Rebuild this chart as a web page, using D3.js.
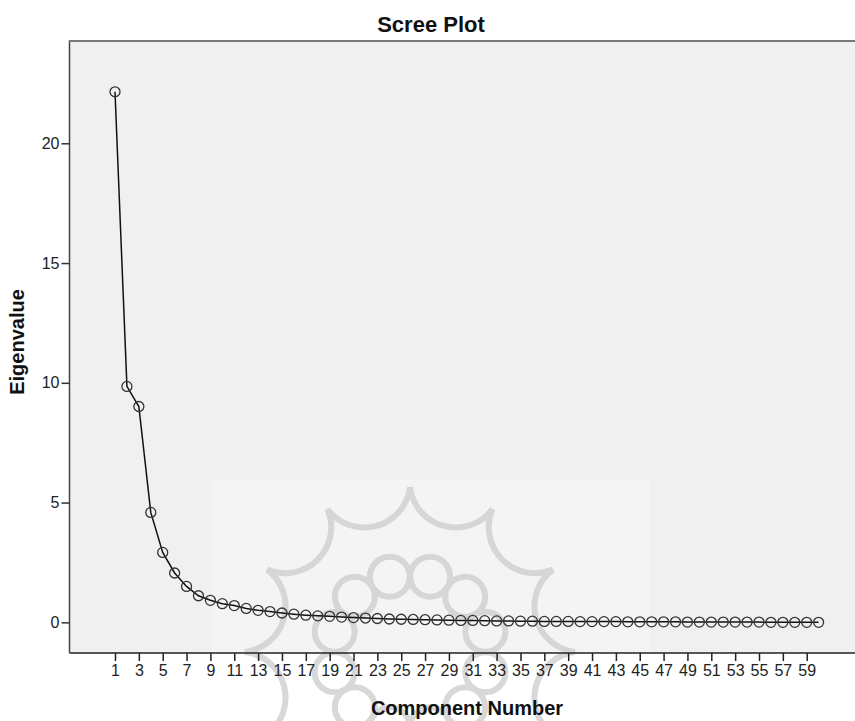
<!DOCTYPE html>
<html>
<head>
<meta charset="utf-8">
<script src="https://cdn.jsdelivr.net/npm/d3@7"></script>
<style>
  html, body { margin: 0; padding: 0; background: #ffffff; }
  svg { display: block; }
</style>
</head>
<body>
<svg id="chart" width="855" height="721"></svg>
<script>
// ---- data ----
const components = d3.range(1, 61);
const eigenvalues = [
  22.15, 9.85, 9.01, 4.59, 2.92, 2.06, 1.50, 1.11, 0.92, 0.78,
  0.70, 0.58, 0.50, 0.45, 0.39, 0.34, 0.30, 0.27, 0.25, 0.22,
  0.20, 0.18, 0.16, 0.14, 0.13, 0.12, 0.11, 0.10, 0.09, 0.08,
  0.08, 0.07, 0.06, 0.06, 0.05, 0.05, 0.04, 0.04, 0.04, 0.03,
  0.03, 0.03, 0.03, 0.02, 0.02, 0.02, 0.02, 0.02, 0.01, 0.01,
  0.01, 0.01, 0.01, 0.01, 0.01, 0.00, 0.00, 0.00, 0.00, 0.00
];
const xTickValues = d3.range(1, 60, 2);
const yTickValues = [0, 5, 10, 15, 20];
const chartTitle = "Scree Plot";
const xTitle = "Component Number";
const yTitle = "Eigenvalue";

// ---- layout ----
const plot = { left: 69.5, top: 41, right: 855, bottom: 653 };
const tickFont = "'Liberation Sans Narrow', 'Arial Narrow', 'Liberation Sans', Arial, sans-serif";
const titleFont = "'Liberation Sans', Arial, sans-serif";

const svg = d3.select("#chart");
const x = d3.scaleLinear().domain([-2.815, 63.05]).range([plot.left, plot.right]);
const y = d3.scaleLinear().domain([-1.28, 24.27]).range([plot.bottom, plot.top]);

// plot background
svg.append("rect")
  .attr("x", plot.left).attr("y", plot.top)
  .attr("width", plot.right - plot.left).attr("height", plot.bottom - plot.top)
  .attr("fill", "#f0f0f0");

// ---- watermark (decorative) ----
const wm = svg.append("g").attr("class", "watermark");
wm.append("rect")
  .attr("x", 212).attr("y", 480).attr("width", 438).attr("height", plot.bottom - 480)
  .attr("fill", "#ffffff").attr("opacity", 0.25);
svg.append("clipPath").attr("id", "wmclip")
  .append("rect").attr("x", 212).attr("y", 480).attr("width", 438).attr("height", 241);
const wg = wm.append("g").attr("clip-path", "url(#wmclip)")
  .attr("fill", "none").attr("stroke", "#cfcfcf").attr("stroke-width", 6).attr("opacity", 0.8);
const cx = 410, cy = 652, R = 165, nTips = 12;
const tips = d3.range(nTips).map(i => {
  const a = (i * 360 / nTips) * Math.PI / 180;
  return [cx + R * Math.sin(a), cy - R * Math.cos(a)];
});
let starPath = "M" + tips[0][0] + "," + tips[0][1];
for (let i = 1; i <= nTips; i++) {
  const p = tips[i % nTips];
  starPath += " A46,46 0 0,0 " + p[0] + "," + p[1];
}
wg.append("path").attr("d", starPath);
d3.range(nTips).forEach(i => {
  const a = ((i + 0.5) * 360 / nTips) * Math.PI / 180;
  wg.append("circle")
    .attr("cx", cx + 78 * Math.sin(a)).attr("cy", cy - 78 * Math.cos(a))
    .attr("r", 20);
});

// ---- axes ----
const xAxis = d3.axisBottom(x).tickValues(xTickValues).tickSize(8).tickSizeOuter(0).tickPadding(4);
const yAxis = d3.axisLeft(y).tickValues(yTickValues).tickSize(8).tickSizeOuter(0).tickPadding(2);

const gx = svg.append("g").attr("transform", `translate(0,${plot.bottom})`).call(xAxis);
gx.select(".domain").attr("stroke", "#222").attr("stroke-width", 1.5)
  .attr("d", `M${plot.left},0H${plot.right}`);
gx.selectAll(".tick line").attr("stroke", "#222").attr("stroke-width", 1.5);
gx.selectAll(".tick text").attr("fill", "#222")
  .style("font-family", tickFont).style("font-size", "16px");

const gy = svg.append("g").attr("transform", `translate(${plot.left},0)`).call(yAxis);
gy.select(".domain").attr("stroke", "#444").attr("stroke-width", 1.5)
  .attr("d", `M0,${plot.top}V${plot.bottom}`);
gy.selectAll(".tick line").attr("stroke", "#333").attr("stroke-width", 1.5);
gy.selectAll(".tick text").attr("fill", "#222")
  .style("font-family", tickFont).style("font-size", "16px");

// top border
svg.append("line")
  .attr("x1", plot.left - 0.75).attr("x2", plot.right)
  .attr("y1", plot.top).attr("y2", plot.top)
  .attr("stroke", "#777").attr("stroke-width", 2);

// ---- data line & markers ----
const pts = components.map((c, i) => ({ c, v: eigenvalues[i] }));
svg.append("path")
  .datum(pts)
  .attr("fill", "none").attr("stroke", "#111").attr("stroke-width", 1.5)
  .attr("d", d3.line().x(d => x(d.c)).y(d => y(d.v)));
svg.append("g").selectAll("circle")
  .data(pts).join("circle")
  .attr("cx", d => x(d.c)).attr("cy", d => y(d.v)).attr("r", 5)
  .attr("fill", "none").attr("stroke", "#333").attr("stroke-width", 1.3);

// ---- titles ----
svg.append("text")
  .attr("x", 431).attr("y", 32).attr("text-anchor", "middle")
  .style("font-family", "'Liberation Sans Narrow', " + titleFont).style("font-weight", "bold")
  .style("font-size", "22px").attr("fill", "#111")
  .text(chartTitle);
svg.append("text")
  .attr("x", 467).attr("y", 715).attr("text-anchor", "middle")
  .style("font-family", titleFont).style("font-weight", "bold")
  .style("font-size", "20px").attr("fill", "#111")
  .text(xTitle);
svg.append("text")
  .attr("transform", "translate(24,342) rotate(-90)").attr("text-anchor", "middle")
  .style("font-family", titleFont).style("font-weight", "bold")
  .style("font-size", "20px").attr("fill", "#111")
  .text(yTitle);
</script>
</body>
</html>
